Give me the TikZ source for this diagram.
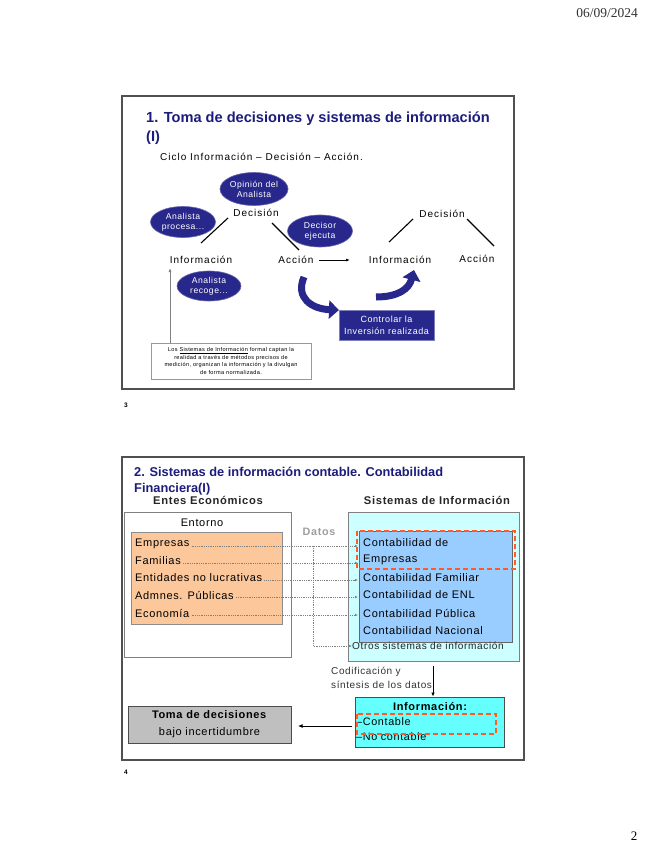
\documentclass[tikz,border=0pt]{standalone}
\usepackage{fontspec}
\setmainfont{Liberation Sans}
\newfontfamily\slidefont[LetterSpace=6]{Liberation Sans}
\newfontfamily\widefont[LetterSpace=10]{Liberation Sans}
\newfontfamily\pageserif{Liberation Serif}
\usetikzlibrary{arrows.meta,shapes.geometric}
\definecolor{navy}{HTML}{28288C}
\definecolor{titlenavy}{HTML}{1C1C7C}
\definecolor{orangebox}{HTML}{FCC89B}
\definecolor{lightcyan}{HTML}{CCFFFF}
\definecolor{bluebox}{HTML}{99CCFF}
\definecolor{infocyan}{HTML}{66FFFF}
\definecolor{reddash}{HTML}{FF5A28}
\definecolor{framegray}{HTML}{505050}
\tikzset{
  frame/.style={draw=framegray,line width=1.2pt},
  bubble/.style={ellipse,fill=navy,draw=navy!70!white,line width=0.6pt,text=white,inner sep=0pt,align=center,font=\slidefont\fontsize{8.6}{10}\selectfont},
  cyclelabel/.style={inner sep=0pt,font=\widefont\fontsize{10}{12}\selectfont},
  itemtext/.style={anchor=west,inner sep=0pt,font=\slidefont\fontsize{11}{13}\selectfont},
  titletext/.style={anchor=base west,inner sep=0pt,text=titlenavy},
  dotline/.style={draw=gray,densely dotted,line width=0.8pt,-{Latex[length=3pt,width=2.5pt]}},
  bigarrow/.style={draw=navy,line width=7pt,-{Triangle[length=10pt,width=18pt]}},
  reddashed/.style={draw=reddash,line width=1.6pt,dash pattern=on 5pt off 3pt},
}
\begin{document}
\begin{tikzpicture}[x=1pt,y=-1pt]
\useasboundingbox[fill=white] (0,0) rectangle (646,848);
% header / footer
\node[anchor=east,inner sep=0pt,text=black!80,font=\pageserif\fontsize{13.5}{15}\selectfont] (date) at (638,13) {06/09/2024};
\node[inner sep=0pt,font=\pageserif\fontsize{13}{15}\selectfont] (pagenum) at (634,836) {2};

% ================= slide 3 =================
\draw[frame] (122,96) rectangle (514,389);
\node[titletext,font=\bfseries\fontsize{14.6}{17}\selectfont] (title1a) at (146,123) {1. Toma de decisiones y sistemas de información};
\node[titletext,font=\bfseries\fontsize{14.6}{17}\selectfont] (title1b) at (146,141) {(I)};
\node[anchor=west,inner sep=0pt,font=\widefont\fontsize{10}{12}\selectfont] (ciclo) at (160,157) {Ciclo Información – Decisión – Acción.};

\node[bubble,minimum width=65pt,minimum height=33pt] (opinion) at (254,189) {Opinión del\\Analista};
\node[bubble,minimum width=65pt,minimum height=31pt] (procesa) at (183,222) {Analista\\procesa...};
\node[bubble,minimum width=65pt,minimum height=32pt] (ejecuta) at (320,231) {Decisor\\ejecuta};
\node[bubble,minimum width=64pt,minimum height=30pt] (recoge) at (209,286) {Analista\\recoge...};

\node[cyclelabel] (dec1) at (256,213) {Decisión};
\node[cyclelabel] (inf1) at (201,260) {Información};
\node[cyclelabel] (acc1) at (296,260) {Acción};
\node[cyclelabel] (inf2) at (400,260) {Información};
\node[cyclelabel] (dec2) at (442,214) {Decisión};
\node[cyclelabel] (acc2) at (477,259) {Acción};

\coordinate (l1a) at (201,243); \coordinate (l1b) at (228,218);
\coordinate (l2a) at (272,223); \coordinate (l2b) at (299,250);
\coordinate (l3a) at (389,242); \coordinate (l3b) at (413,219);
\coordinate (l4a) at (467,219); \coordinate (l4b) at (494,246);
\draw[line width=1.1pt] (l1a) -- (l1b);
\draw[line width=1.1pt] (l2a) -- (l2b);
\draw[line width=1.1pt] (l3a) -- (l3b);
\draw[line width=1.1pt] (l4a) -- (l4b);
\coordinate (accstart) at (319,260);
\draw[line width=0.9pt,-{Latex[length=4pt,width=3pt]}] (accstart) -- (inf2.west -| 350,0);

\node[draw=navy!50!white,line width=0.8pt,fill=white,minimum width=160pt,minimum height=36pt,inner sep=1pt,align=center,font=\slidefont\fontsize{5.6}{7.4}\selectfont] (note) at (231,361)
  {Los \underline{Sistemas de Información} formal captan la\\realidad a través de métodos precisos de\\medición, organizan la información y la divulgan\\de forma normalizada.};
\coordinate (upstart) at (170,343);
\coordinate (upend) at (170,268);
\draw[draw=gray,line width=0.9pt,-{Latex[length=4pt,width=3pt]}] (upstart) -- (upend);

\node[fill=navy,draw=navy!60!white,line width=0.8pt,text=white,minimum width=95pt,minimum height=30pt,inner sep=0pt,align=center,font=\slidefont\fontsize{9}{12}\selectfont] (controlar) at (386.5,325) {Controlar la\\Inversión realizada};
\coordinate (ca1) at (304,277);
\coordinate (ca2) at (339,310);
\coordinate (cb1) at (376,297);
\coordinate (cb2) at (414,270);
\draw[bigarrow] (ca1) .. controls (295,298) and (312,309) .. (ca2);
\draw[bigarrow] (cb1) .. controls (398,297) and (409,289) .. (cb2);

\node[anchor=west,inner sep=0pt,font=\bfseries\fontsize{6.5}{8}\selectfont] (p3) at (124,405) {3};

% ================= slide 4 =================
\draw[frame] (122,457) rectangle (524,760);
\node[titletext,font=\bfseries\fontsize{12.8}{14}\selectfont] (title2a) at (134,476) {2. Sistemas de información contable. Contabilidad};
\node[titletext,font=\bfseries\fontsize{12.8}{14}\selectfont] (title2b) at (134,492) {Financiera(I)};
\node[inner sep=0pt,font=\bfseries\slidefont\fontsize{11.2}{12}\selectfont,text=black!85] (entes) at (208,500) {Entes Económicos};
\node[inner sep=0pt,font=\bfseries\slidefont\fontsize{11.2}{12}\selectfont,text=black!85] (sistemas) at (437,500) {Sistemas de Información};

% Entorno
\draw[draw=gray,line width=0.9pt,fill=white] (124,512) rectangle (291,657);
\node[inner sep=0pt,font=\slidefont\fontsize{11}{12}\selectfont] (entorno) at (202,523) {Entorno};
\draw[draw=black!45,line width=0.9pt,fill=orangebox] (131,532) rectangle (282,624);
\node[itemtext] (emp) at (135,544) {Empresas};
\node[itemtext] (fam) at (135,561) {Familias};
\node[itemtext] (ent) at (135,578) {Entidades no lucrativas};
\node[itemtext] (adm) at (135,595) {Admnes. Públicas};
\node[itemtext] (eco) at (135,613) {Economía};

\node[inner sep=0pt,text=black!38,font=\bfseries\slidefont\fontsize{10.8}{12}\selectfont] (datos) at (319,532) {Datos};

% Sistemas
\draw[draw=gray,line width=0.9pt,fill=lightcyan] (348,512) rectangle (519,661);
\node[draw=black!60,line width=0.9pt,fill=bluebox,minimum width=153pt,minimum height=111pt,inner sep=0pt] (blue) at (435.5,586.5) {};
\node[itemtext] (ce1) at (363,543) {Contabilidad de};
\node[itemtext] (ce2) at (363,560) {Empresas};
\node[itemtext] (cfam) at (363,578) {Contabilidad Familiar};
\node[itemtext] (cenl) at (363,595) {Contabilidad de ENL};
\node[itemtext] (cpub) at (363,613) {Contabilidad Pública};
\node[itemtext] (cnac) at (363,631) {Contabilidad Nacional};
\node[anchor=west,inner sep=0pt,text=black!85,font=\slidefont\fontsize{10.1}{11}\selectfont] (otros) at (352,646) {Otros sistemas de información};
\draw[reddashed] (357,531) rectangle (515,569);

% dotted connectors
\coordinate (blueedge) at (358,0);
\draw[dotline] ([shift={(2pt,-2pt)}]emp.east) -- ([yshift=-2pt]emp.east -| blueedge);
\draw[dotline] ([shift={(2pt,-2pt)}]fam.east) -- ([yshift=-2pt]fam.east -| blueedge);
\draw[dotline] ([shift={(2pt,-2pt)}]ent.east) -- ([yshift=-2pt]ent.east -| blueedge);
\draw[dotline] ([shift={(2pt,-2pt)}]adm.east) -- ([yshift=-2pt]adm.east -| blueedge);
\draw[dotline] ([shift={(2pt,-2pt)}]eco.east) -- ([yshift=-2pt]eco.east -| blueedge);
\coordinate (vtop) at (313,546);
\draw[dotline] (vtop) |- (otros.west);

% Codificación
\node[anchor=north west,inner sep=0pt,align=left,text=black!80,font=\slidefont\fontsize{10}{13.5}\selectfont] (codif) at (331,667) {Codificación y\\síntesis de los datos};
\node[draw=black!70,line width=0.9pt,fill=infocyan,minimum width=149pt,minimum height=50pt,inner sep=0pt] (info) at (429.5,722) {};
\coordinate (downtop) at (433,666);
\draw[line width=1pt,-{Latex[length=4pt,width=3.5pt]}] (downtop) -- (info.north -| downtop);
\node[inner sep=0pt,font=\bfseries\slidefont\fontsize{11}{12}\selectfont] (infotitle) at (430,707) {Información:};
\node[itemtext,font=\slidefont\fontsize{10.8}{12}\selectfont] (contable) at (356,722) {–Contable};
\node[itemtext,font=\slidefont\fontsize{10.8}{12}\selectfont] (nocontable) at (356,737) {–No contable};
\draw[reddashed] (357,714) rectangle (496,734);

\node[draw=black!70,line width=0.9pt,fill=black!25,minimum width=163pt,minimum height=37pt,inner sep=0pt,align=center,font=\slidefont\fontsize{11}{17}\selectfont] (toma) at (209.5,724.5) {\textbf{Toma de decisiones}\\bajo incertidumbre};
\coordinate (leftstart) at (352,726);
\coordinate (leftend) at (298,726);
\draw[line width=1pt,-{Latex[length=4.5pt,width=4pt]}] (leftstart) -- (leftend);
\node[anchor=west,inner sep=0pt,font=\bfseries\fontsize{6.5}{8}\selectfont] (p4) at (124,772) {4};
\end{tikzpicture}
\end{document}
